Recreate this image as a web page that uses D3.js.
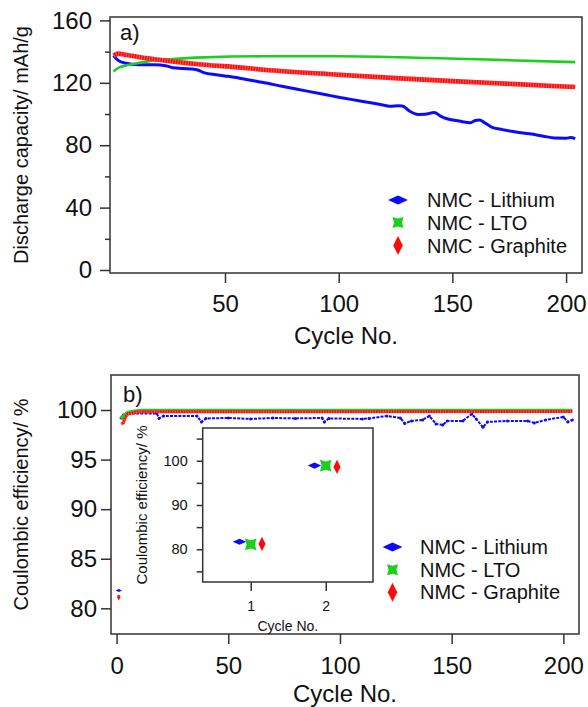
<!DOCTYPE html>
<html>
<head>
<meta charset="utf-8">
<script src="https://cdn.jsdelivr.net/npm/d3@7"></script>
<style>
body { margin: 0; background: #fff; }
text { font-family: "Liberation Sans", Arial, sans-serif; fill: #111; }
</style>
</head>
<body>
<div id="chart"></div>
<script>
// ---- panel a) discharge capacity (mAh/g) vs cycle
var liCycles = [1, 3, 6, 12, 19, 24, 27, 35, 38, 41, 46, 50, 56, 60, 67, 75, 85, 95, 100, 110, 120, 123, 126, 128, 131, 135, 138, 142, 145, 148, 153, 158, 160, 162, 164, 167, 172, 178, 184, 190, 195, 200, 202, 204];
var liCap = [137.5, 134.4, 132.7, 131.6, 131.6, 131.0, 129.6, 128.9, 128.2, 126.4, 125.2, 124.4, 123.1, 122.0, 120.2, 117.8, 115.0, 112.2, 110.8, 108.2, 105.6, 104.9, 105.3, 105.2, 102.0, 99.7, 99.8, 101.0, 98.5, 96.8, 95.5, 94.4, 95.8, 96.2, 94.6, 91.8, 90.0, 88.5, 87.3, 85.8, 84.6, 84.5, 84.9, 84.2];
var ltoCycles = [1, 3, 6, 12, 19, 27, 41, 67, 100, 140, 170, 204];
var ltoCap = [127.3, 129.5, 131.0, 132.7, 134.4, 135.3, 136.3, 137.0, 137.0, 135.9, 134.7, 133.3];
var grCycles = [1, 3, 6, 12, 20, 27, 41, 56, 67, 100, 125, 152, 180, 204];
var grCap = [137.4, 138.7, 138.0, 136.6, 135.0, 133.7, 131.6, 129.9, 128.4, 125.2, 123.0, 120.9, 119.0, 117.3];

// ---- panel b) coulombic efficiency (%)
var firstCycle = 1;
var firstCE = [81.8, 81.2, 81.1]; // Li, LTO, Graphite
var liCeCycles = [2, 3, 5, 18, 19, 21, 36, 38, 40, 50, 60, 70, 80, 92, 93, 95, 110, 113, 121, 127, 129, 132, 137, 140, 143, 146, 148, 155, 159, 161, 164, 166, 175, 184, 187, 192, 200, 202, 204];
var liCe = [99.2, 99.5, 99.65, 99.66, 99.15, 99.4, 99.4, 98.8, 99.15, 99.2, 99.1, 99.2, 99.15, 99.2, 98.8, 99.15, 99.1, 99.15, 99.4, 99.2, 98.65, 98.9, 99.0, 99.4, 98.6, 98.5, 98.9, 98.9, 99.6, 99.1, 98.25, 98.8, 98.9, 98.9, 98.7, 99.0, 99.3, 98.8, 99.0];
var ltoCeCycles = [2, 3, 5, 8, 12, 204];
var ltoCe = [99.1, 99.3, 99.7, 99.85, 99.92, 99.92];
var grCeCycles = [2, 3, 4, 5, 7, 10, 204];
var grCe = [98.6, 98.7, 99.3, 99.6, 99.7, 99.82, 99.84];

// ---- inset: first two cycles
var insetCycles = [1, 2];
var insetLi = [81.7, 98.9];
var insetLto = [81.1, 98.9];
var insetGr = [81.2, 98.6];

var seriesNames = ['NMC - Lithium', 'NMC - LTO', 'NMC - Graphite'];
var colors = ['#0a0aff', '#1ccf1c', '#ff0a0a'];

var width = 588, height = 707;
var frameColor = '#333';

var svg = d3.select('#chart').append('svg')
    .attr('width', width)
    .attr('height', height);

// marker shapes
function hDiamond(w, h) {
    return 'M' + (-w / 2) + ',0L0,' + (-h / 2) + 'L' + (w / 2) + ',0L0,' + (h / 2) + 'Z';
}
function bowtie(s) {
    var a = s / 2, p = s * 0.14;
    return 'M' + (-a) + ',' + (-a) + 'L0,' + (-a + p) + 'L' + a + ',' + (-a) + 'L' + (a - p) + ',0L' +
        a + ',' + a + 'L0,' + (a - p) + 'L' + (-a) + ',' + a + 'L' + (-a + p) + ',0Z';
}
function markerPath(i, k) {
    // k scales the marker size
    if (i === 0) return hDiamond(20 * k, 9 * k);
    if (i === 1) return bowtie(11 * k);
    return hDiamond(9.5 * k, 19 * k);
}

function styleAxis(g, size) {
    g.select('.domain').remove();
    g.style('color', frameColor);
    g.selectAll('line').attr('stroke-width', 1.5);
    g.selectAll('text')
        .attr('font-size', size)
        .attr('font-family', '"Liberation Sans", Arial, sans-serif')
        .style('fill', '#111');
}

function pairs(xs, ys) {
    return xs.map(function(c, i) { return [c, ys[i]]; });
}

function legend(x0, tx, ys) {
    var lg = svg.append('g');
    seriesNames.forEach(function(name, i) {
        lg.append('path')
            .attr('d', markerPath(i, 1))
            .attr('transform', 'translate(' + x0 + ',' + ys[i] + ')')
            .attr('fill', colors[i]);
        lg.append('text')
            .attr('x', tx)
            .attr('y', ys[i] + 7)
            .attr('font-size', 20)
            .text(name);
    });
}

// =============== panel a ===============
var a = { left: 110, right: 582, top: 17, bottom: 273 };
var xA = d3.scaleLinear().domain([-0.57, 207]).range([a.left, a.right]);
var yA = d3.scaleLinear().domain([-1.93, 162.2]).range([a.bottom, a.top]);

svg.append('g')
    .attr('transform', 'translate(' + a.left + ',0)')
    .call(d3.axisLeft(yA).tickValues([0, 40, 80, 120, 160]).tickSize(10).tickPadding(8))
    .call(styleAxis, 24);
svg.append('g')
    .attr('transform', 'translate(' + a.left + ',0)')
    .call(d3.axisLeft(yA).tickValues([20, 60, 100, 140]).tickSize(5).tickFormat(''))
    .call(styleAxis, 24);
svg.append('g')
    .attr('transform', 'translate(0,' + a.bottom + ')')
    .call(d3.axisBottom(xA).tickValues([50, 100, 150, 200]).tickSize(10).tickPadding(12))
    .call(styleAxis, 24);

var lineA = d3.line()
    .x(function(d) { return xA(d[0]); })
    .y(function(d) { return yA(d[1]); })
    .curve(d3.curveMonotoneX);

var curvesA = [pairs(liCycles, liCap), pairs(ltoCycles, ltoCap), pairs(grCycles, grCap)];
var widthsA = [3, 2.6, 4.6];
[0, 1, 2].forEach(function(i) {
    svg.append('path')
        .datum(curvesA[i])
        .attr('d', lineA)
        .attr('fill', 'none')
        .attr('stroke', colors[i])
        .attr('stroke-width', widthsA[i])
        .attr('stroke-linejoin', 'round');
});
// cross-hatched look of the graphite markers
svg.append('path')
    .datum(curvesA[2])
    .attr('d', lineA)
    .attr('fill', 'none')
    .attr('stroke', '#ff9a9a')
    .attr('stroke-width', 4.6)
    .attr('stroke-dasharray', '1 1.6')
    .attr('opacity', 0.55);

svg.append('rect')
    .attr('x', a.left).attr('y', a.top)
    .attr('width', a.right - a.left).attr('height', a.bottom - a.top)
    .attr('fill', 'none').attr('stroke', frameColor).attr('stroke-width', 1.5);

svg.append('text').attr('x', 120).attr('y', 40).attr('font-size', 22).text('a)');
svg.append('text')
    .attr('transform', 'translate(27.5,' + ((a.top + a.bottom) / 2) + ') rotate(-90)')
    .attr('text-anchor', 'middle')
    .attr('font-size', 20)
    .text('Discharge capacity/ mAh/g');
svg.append('text')
    .attr('x', (a.left + a.right) / 2).attr('y', 344)
    .attr('text-anchor', 'middle').attr('font-size', 24)
    .text('Cycle No.');

legend(398, 427, [200, 222.5, 245.5]);

// =============== panel b ===============
var b = { left: 111, right: 579, top: 375, bottom: 634 };
var xB = d3.scaleLinear().domain([-2.5, 207]).range([b.left, b.right]);
var yB = d3.scaleLinear().domain([77.41, 103.53]).range([b.bottom, b.top]);

svg.append('g')
    .attr('transform', 'translate(' + b.left + ',0)')
    .call(d3.axisLeft(yB).tickValues([80, 85, 90, 95, 100]).tickSize(10).tickPadding(4))
    .call(styleAxis, 24);
svg.append('g')
    .attr('transform', 'translate(0,' + b.bottom + ')')
    .call(d3.axisBottom(xB).tickValues([0, 50, 100, 150, 200]).tickSize(10).tickPadding(13))
    .call(styleAxis, 24);

var lineB = d3.line()
    .x(function(d) { return xB(d[0]); })
    .y(function(d) { return yB(d[1]); });

// blue: small dots joined
var liCePts = pairs(liCeCycles, liCe);
svg.append('path')
    .datum(liCePts)
    .attr('d', lineB)
    .attr('fill', 'none')
    .attr('stroke', colors[0])
    .attr('stroke-width', 2)
    .attr('stroke-dasharray', '3 1.2');
svg.append('g').selectAll('circle')
    .data(liCePts)
    .join('circle')
    .attr('cx', function(d) { return xB(d[0]); })
    .attr('cy', function(d) { return yB(d[1]); })
    .attr('r', 1.5)
    .attr('fill', colors[0]);

svg.append('path')
    .datum(pairs(ltoCeCycles, ltoCe))
    .attr('d', lineB)
    .attr('fill', 'none')
    .attr('stroke', colors[1])
    .attr('stroke-width', 4.2);
svg.append('path')
    .datum(pairs(grCeCycles, grCe))
    .attr('d', lineB)
    .attr('fill', 'none')
    .attr('stroke', colors[2])
    .attr('stroke-width', 3);
svg.append('path')
    .datum(pairs(grCeCycles, grCe))
    .attr('d', lineB)
    .attr('fill', 'none')
    .attr('stroke', '#ff9a9a')
    .attr('stroke-width', 3)
    .attr('stroke-dasharray', '1 1.6')
    .attr('opacity', 0.5);

// first cycle markers
[1, 2, 0].forEach(function(i) {
    svg.append('path')
        .attr('d', markerPath(i, 0.32))
        .attr('transform', 'translate(' + xB(firstCycle) + ',' + yB(firstCE[i]) + ')')
        .attr('fill', colors[i]);
});

svg.append('rect')
    .attr('x', b.left).attr('y', b.top)
    .attr('width', b.right - b.left).attr('height', b.bottom - b.top)
    .attr('fill', 'none').attr('stroke', frameColor).attr('stroke-width', 1.5);

svg.append('text').attr('x', 123).attr('y', 401.5).attr('font-size', 22).text('b)');
svg.append('text')
    .attr('transform', 'translate(27.5,' + ((b.top + b.bottom) / 2) + ') rotate(-90)')
    .attr('text-anchor', 'middle')
    .attr('font-size', 20)
    .text('Coulombic efficiency/ %');
svg.append('text')
    .attr('x', (b.left + b.right) / 2).attr('y', 702)
    .attr('text-anchor', 'middle').attr('font-size', 24)
    .text('Cycle No.');

legend(392.5, 420, [547, 569.7, 592.3]);

// =============== inset ===============
var n = { left: 202.7, right: 373, top: 428, bottom: 582 };
var xN = d3.scaleLinear().domain([0.36, 2.63]).range([n.left, n.right]);
var yN = d3.scaleLinear().domain([72.6, 107.4]).range([n.bottom, n.top]);

svg.append('rect')
    .attr('x', n.left).attr('y', n.top)
    .attr('width', n.right - n.left).attr('height', n.bottom - n.top)
    .attr('fill', '#fff').attr('stroke', frameColor).attr('stroke-width', 1.5);

svg.append('g')
    .attr('transform', 'translate(' + n.left + ',0)')
    .call(d3.axisLeft(yN).tickValues([75, 80, 85, 90, 95, 100, 105]).tickSize(6).tickPadding(9)
        .tickFormat(function(d) { return d % 10 === 0 ? d : ''; }))
    .call(styleAxis, 14.5);
svg.append('g')
    .attr('transform', 'translate(0,' + n.bottom + ')')
    .call(d3.axisBottom(xN).tickValues(insetCycles).tickSize(9).tickPadding(10).tickFormat(d3.format('d')))
    .call(styleAxis, 14);

var insetSeries = [insetLi, insetLto, insetGr];
var insetShift = [-0.15, 0, 0.15];
var insetScale = [0.68, 1.05, 0.75];
[0, 1, 2].forEach(function(i) {
    svg.append('g').selectAll('path')
        .data(insetCycles.map(function(c, j) { return [c, insetSeries[i][j]]; }))
        .join('path')
        .attr('d', markerPath(i, insetScale[i]))
        .attr('transform', function(d) {
            return 'translate(' + xN(d[0] + insetShift[i]) + ',' + yN(d[1]) + ')';
        })
        .attr('fill', colors[i]);
});

svg.append('text')
    .attr('transform', 'translate(146.5,' + ((n.top + n.bottom) / 2) + ') rotate(-90)')
    .attr('text-anchor', 'middle')
    .attr('font-size', 15)
    .text('Coulombic efficiency/ %');
svg.append('text')
    .attr('x', (n.left + n.right) / 2).attr('y', 631)
    .attr('text-anchor', 'middle').attr('font-size', 14)
    .text('Cycle No.');
</script>
</body>
</html>
